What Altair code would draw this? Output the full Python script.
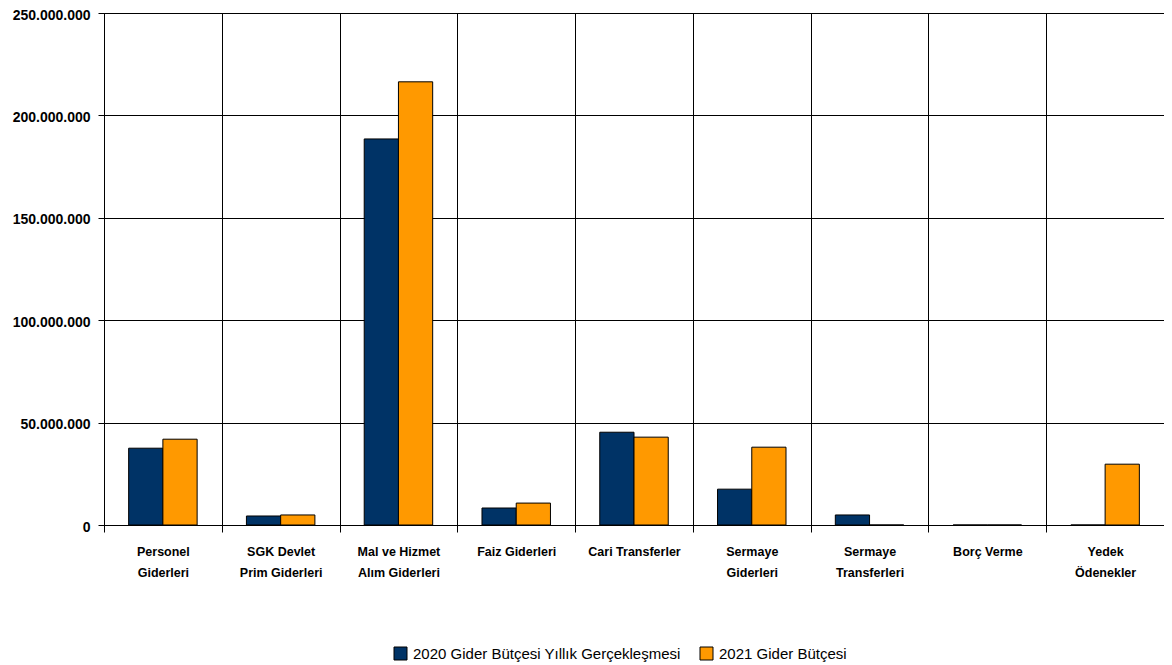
import json
import altair as alt
import pandas as pd

categories = ["Personel Giderleri", "SGK Devlet Prim Giderleri", "Mal ve Hizmet Alım Giderleri",
              "Faiz Giderleri", "Cari Transferler", "Sermaye Giderleri",
              "Sermaye Transferleri", "Borç Verme", "Yedek Ödenekler"]
label_lines = [["Personel", "Giderleri"], ["SGK Devlet", "Prim Giderleri"], ["Mal ve Hizmet", "Alım Giderleri"],
               ["Faiz Giderleri"], ["Cari Transferler"], ["Sermaye", "Giderleri"],
               ["Sermaye", "Transferleri"], ["Borç Verme"], ["Yedek", "Ödenekler"]]
series_names = ["2020 Gider Bütçesi Yıllık Gerçekleşmesi", "2021 Gider Bütçesi"]
values_2020 = [37.5e6, 4.4e6, 188.5e6, 8.3e6, 45.3e6, 17.5e6, 4.9e6, 0, 0]
values_2021 = [41.9e6, 4.9e6, 216.4e6, 10.7e6, 42.9e6, 38.0e6, 0, 0, 29.7e6]
y_ticks = [0, 50e6, 100e6, 150e6, 200e6, 250e6]
colors = ["#003366", "#FF9900"]

rows = []
for c, a, b in zip(categories, values_2020, values_2021):
    rows.append({"category": c, "series": series_names[0], "value": a})
    rows.append({"category": c, "series": series_names[1], "value": b})
df = pd.DataFrame(rows)

lookup = json.dumps(dict(zip(categories, label_lines)), ensure_ascii=False)
font = "Liberation Sans, Arial"

chart = alt.Chart(df).mark_bar(stroke="black", strokeWidth=1).encode(
    x=alt.X("category:N", sort=categories,
            scale=alt.Scale(paddingInner=0, paddingOuter=0),
            axis=alt.Axis(title=None, labelAngle=0, tickBand="extent", grid=True,
                          gridColor="black", gridOpacity=1, domainColor="black", tickColor="black",
                          tickSize=7, labelPadding=13, labelFont=font, labelFontWeight="bold",
                          labelFontSize=12.5, labelLineHeight=21, labelColor="black",
                          labelBaseline="top", labelLimit=0,
                          labelExpr=lookup + "[datum.label]")),
    xOffset=alt.XOffset("series:N", sort=series_names,
                        scale=alt.Scale(paddingOuter=0.72, paddingInner=0)),
    y=alt.Y("value:Q", scale=alt.Scale(domain=[0, 250e6], nice=False),
            axis=alt.Axis(title=None, values=y_ticks, grid=True, gridColor="black", gridOpacity=1,
                          domainColor="black", tickColor="black", tickSize=6, labelPadding=8,
                          labelOffset=2, labelFont=font, labelFontWeight="bold",
                          labelFontSize=14, labelColor="black",
                          labelExpr="replace(format(datum.value, ','), regexp(',', 'g'), '.')")),
    color=alt.Color("series:N", sort=series_names,
                    scale=alt.Scale(domain=series_names, range=colors),
                    legend=alt.Legend(title=None, orient="none", legendX=289, legendY=633,
                                      direction="horizontal", symbolType="square", symbolSize=169,
                                      symbolStrokeColor="black", symbolStrokeWidth=1,
                                      symbolOpacity=1, labelFont=font, labelFontSize=15,
                                      labelLimit=0, labelColor="black", labelOffset=5,
                                      columnPadding=17)),
).properties(
    width=1060, height=512,
    autosize=alt.AutoSizeParams(type="none"),
    padding={"left": 96, "top": 5, "right": 0, "bottom": 140},
).configure_view(stroke="black")

chart.save("out.html", embed_options={"renderer": "svg", "actions": False})
